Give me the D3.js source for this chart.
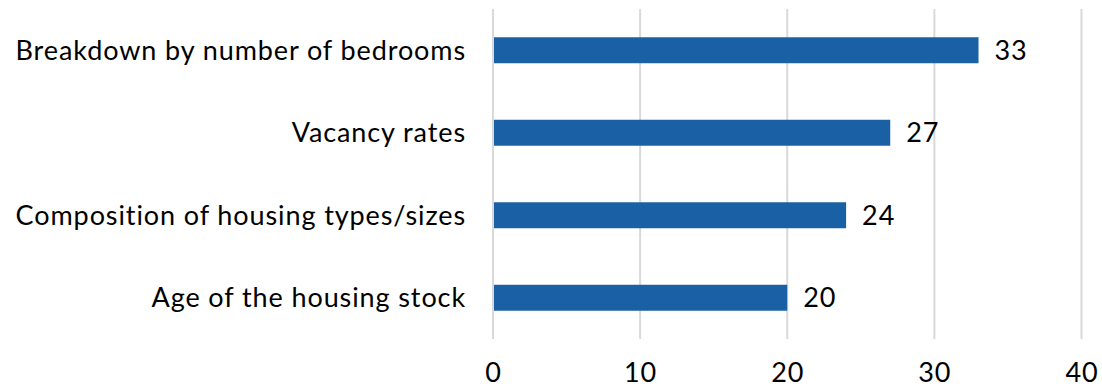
<!DOCTYPE html>
<html>
<head>
<meta charset="utf-8">
<script src="https://cdn.jsdelivr.net/npm/d3@7"></script>
<style>
  html, body { margin: 0; padding: 0; background: #ffffff; }
  svg { display: block; }
  text { font-family: Lato, "Open Sans", sans-serif; fill: #000000; }
</style>
</head>
<body>
<svg id="chart" width="1102" height="388"></svg>
<script>
// Survey topics and the number of responses for each
const categories = [
  "Breakdown by number of bedrooms",
  "Vacancy rates",
  "Composition of housing types/sizes",
  "Age of the housing stock"
];
const values = [33, 27, 24, 20];
const xTicks = [0, 10, 20, 30, 40];

const svg = d3.select("#chart");
const plotLeft = 493, plotRight = 1081.5, plotTop = 9, plotBottom = 339;
const fontSize = 27;
const spacing = "0.9px";

const x = d3.scaleLinear().domain([0, 40]).range([plotLeft, plotRight]);
const y = d3.scaleBand()
  .domain(categories)
  .range([plotTop, plotBottom])
  .paddingInner(0.685)
  .paddingOuter(0.3425);

// vertical gridlines
svg.append("g")
  .selectAll("line")
  .data(xTicks)
  .join("line")
  .attr("x1", d => x(d)).attr("x2", d => x(d))
  .attr("y1", plotTop).attr("y2", plotBottom)
  .attr("stroke", "#d9d9d9")
  .attr("stroke-width", 2);

// bars
svg.append("g")
  .selectAll("rect")
  .data(values)
  .join("rect")
  .attr("x", x(0) + 1)
  .attr("y", (d, i) => y(categories[i]))
  .attr("width", d => x(d) - x(0) - 1)
  .attr("height", y.bandwidth())
  .attr("fill", "#1961a4");

// value labels
svg.append("g")
  .selectAll("text")
  .data(values)
  .join("text")
  .attr("x", d => x(d) + 16)
  .attr("y", (d, i) => y(categories[i]) + y.bandwidth() / 2)
  .attr("dy", "0.36em")
  .attr("font-size", fontSize)
  .attr("letter-spacing", spacing)
  .text(d => d);

// category axis labels
const yAxis = d3.axisLeft(y).tickSize(0).tickPadding(27);
const gy = svg.append("g")
  .attr("transform", `translate(${plotLeft},0)`)
  .call(yAxis);
gy.select(".domain").remove();
gy.attr("font-family", null).attr("font-size", null);
gy.selectAll("text")
  .attr("font-size", fontSize)
  .attr("letter-spacing", spacing)
  .attr("dy", "0.36em");

// value axis labels
const xAxis = d3.axisBottom(x).tickValues(xTicks).tickSize(0).tickPadding(0);
const gx = svg.append("g")
  .attr("transform", `translate(0,${plotBottom})`)
  .call(xAxis);
gx.select(".domain").remove();
gx.attr("font-family", null).attr("font-size", null);
gx.selectAll("text")
  .attr("font-size", fontSize)
  .attr("letter-spacing", spacing)
  .attr("dy", null)
  .attr("y", 43);
</script>
</body>
</html>
